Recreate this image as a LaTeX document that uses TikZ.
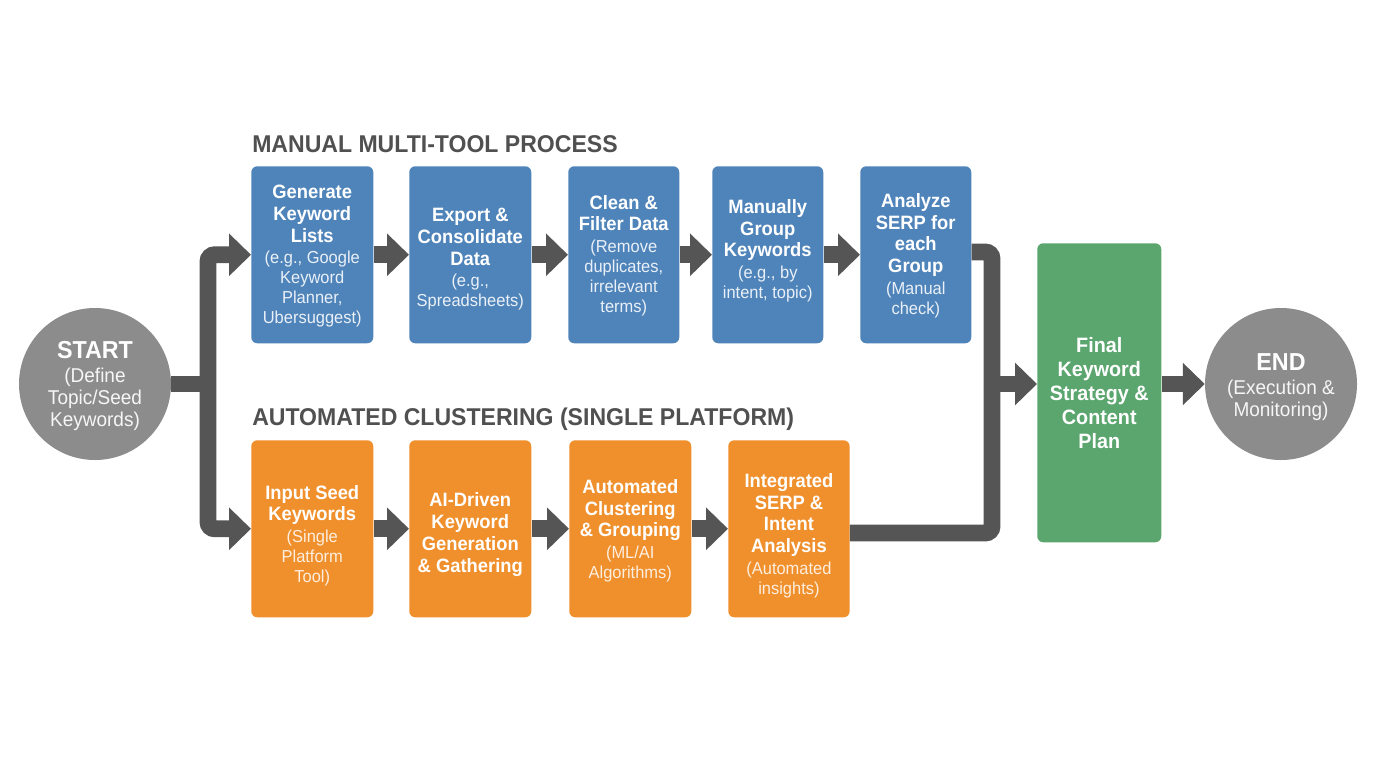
\documentclass[tikz,border=0pt]{standalone}
\usepackage{fontspec}
\setmainfont[FakeStretch=0.95]{Liberation Sans}
\usetikzlibrary{arrows.meta}
\definecolor{bluebox}{HTML}{4F84BA}
\definecolor{orangebox}{HTML}{F0902C}
\definecolor{greenbox}{HTML}{5BA56E}
\definecolor{greycirc}{HTML}{8C8C8C}
\definecolor{conncol}{HTML}{555555}
\definecolor{headcol}{HTML}{505050}
\newcommand{\tl}[1]{{\color{white}\fontsize{14.5pt}{16.5pt}\selectfont\bfseries #1}\\[1.4pt]}
\newcommand{\tg}[1]{{\color{white}\fontsize{15.6pt}{18pt}\selectfont\bfseries #1}}
\newcommand{\tc}[1]{{\color{white}\fontsize{18.4pt}{20pt}\selectfont\bfseries #1}\\[2pt]}
\tikzset{
 x=0.75pt,y=-0.75pt,
 stepbox/.style={rounded corners=4.5pt,inner sep=0pt,anchor=north west,minimum height=132.75pt},
 bluestep/.style={stepbox,fill=bluebox},
 orangestep/.style={stepbox,fill=orangebox},
 steptext/.style={align=center,inner sep=0pt,font=\fontsize{13pt}{15pt}\selectfont},
 bluetext/.style={steptext,text=white!88!bluebox},
 orangetext/.style={steptext,text=white!85!orangebox},
 greenstep/.style={stepbox,fill=greenbox,minimum width=93pt,minimum height=224.25pt},
 greentext/.style={align=center,inner sep=0pt,text=white,font=\fontsize{15.6pt}{18pt}\selectfont},
 circ/.style={circle,fill=greycirc,inner sep=0pt,minimum size=114pt},
 circtext/.style={align=center,inner sep=0pt,text=white!92!greycirc,font=\fontsize{15pt}{16.5pt}\selectfont},
 conn/.style={draw=conncol,line width=12.6pt,rounded corners=5pt,-{Triangle[length=16.5pt,width=31pt,fill=conncol]}},
 plainline/.style={draw=conncol,line width=12.6pt,rounded corners=5pt},
 headtext/.style={text=headcol,font=\fontsize{18.2pt}{22pt}\selectfont\bfseries,anchor=west,inner sep=0pt},
}
\begin{document}
\begin{tikzpicture}
\useasboundingbox (0,0) rectangle (1376,768);
\fill[white] (0,0) rectangle (1376,768);
\node[headtext] (h1) at (252,144) {MANUAL MULTI-TOOL PROCESS};
\node[headtext] (h2) at (252,419) {AUTOMATED CLUSTERING (SINGLE PLATFORM)};
\node[circ] (start) at (95,384) {};
\node[circ] (finish) at (1281,384) {};
\node[bluestep,minimum width=91.5pt] (b1) at (251,166) {};
\node[bluestep,minimum width=91.5pt] (b2) at (409,166) {};
\node[bluestep,minimum width=83.25pt] (b3) at (568,166) {};
\node[bluestep,minimum width=83.25pt] (b4) at (712,166) {};
\node[bluestep,minimum width=83.25pt] (b5) at (860,166) {};
\node[orangestep,minimum width=91.5pt] (o1) at (251,440) {};
\node[orangestep,minimum width=91.5pt] (o2) at (409,440) {};
\node[orangestep,minimum width=91.5pt] (o3) at (569,440) {};
\node[orangestep,minimum width=91pt] (o4) at (728,440) {};
\node[greenstep] (final) at (1037,243) {};
\node[circtext,yshift=-1.5pt] (startt) at (start) {\tc{START}(Define\\Topic/Seed\\Keywords)};
\node[circtext,yshift=-2.25pt] (finisht) at (finish) {\tc{END}(Execution \&\\Monitoring)};
\node[bluetext,yshift=-1.1pt] (b1t) at (b1) {\tl{Generate}\tl{Keyword}\tl{Lists}(e.g., Google\\Keyword\\Planner,\\Ubersuggest)};
\node[bluetext,yshift=-3.4pt] (b2t) at (b2) {\tl{Export \&}\tl{Consolidate}\tl{Data}(e.g.,\\Spreadsheets)};
\node[bluetext,yshift=-0.75pt] (b3t) at (b3) {\tl{Clean \&}\tl{Filter Data}(Remove\\duplicates,\\irrelevant\\terms)};
\node[bluetext,yshift=3pt] (b4t) at (b4) {\tl{Manually}\tl{Group}\tl{Keywords}(e.g., by\\intent, topic)};
\node[bluetext,yshift=-0.75pt] (b5t) at (b5) {\tl{Analyze}\tl{SERP for}\tl{each}\tl{Group}(Manual\\check)};
\node[orangetext,yshift=-5.25pt] (o1t) at (o1) {\tl{Input Seed}\tl{Keywords}(Single\\Platform\\Tool)};
\node[orangetext,yshift=-4.1pt] (o2t) at (o2) {\tl{AI-Driven}\tl{Keyword}\tl{Generation}{\color{white}\fontsize{14.5pt}{16.5pt}\selectfont\bfseries \& Gathering}};
\node[orangetext,yshift=-1.5pt] (o3t) at (o3) {\tl{Automated}\tl{Clustering}\tl{\& Grouping}(ML/AI\\Algorithms)};
\node[orangetext,yshift=-5.25pt] (o4t) at (o4) {\tl{Integrated}\tl{SERP \&}\tl{Intent}\tl{Analysis}(Automated\\insights)};
\node[greentext] (finalt) at (final) {\tg{Final}\\\tg{Keyword}\\\tg{Strategy \&}\\\tg{Content}\\\tg{Plan}};
\coordinate (tj) at (208,384);
\coordinate (mj) at (992,384);
\draw[plainline] (start.east) -- (tj);
\draw[conn] (tj) |- (b1.west);
\draw[conn] (tj) |- (o1.west);
\draw[conn] (b1) -- (b2);
\draw[conn] (b2) -- (b3);
\draw[conn] (b3) -- (b4);
\draw[conn] (b4) -- (b5);
\draw[conn] (o1) -- (o2);
\draw[conn] (o2) -- (o3);
\draw[conn] (o3) -- (o4);
\draw[plainline] (b5.east |- 0,252) -| (mj);
\draw[plainline] (o4.east |- 0,533) -| (mj);
\draw[conn] (mj) -- (mj -| final.west);
\draw[conn] (final.east |- finish) -- (finish.west);
\end{tikzpicture}
\end{document}
